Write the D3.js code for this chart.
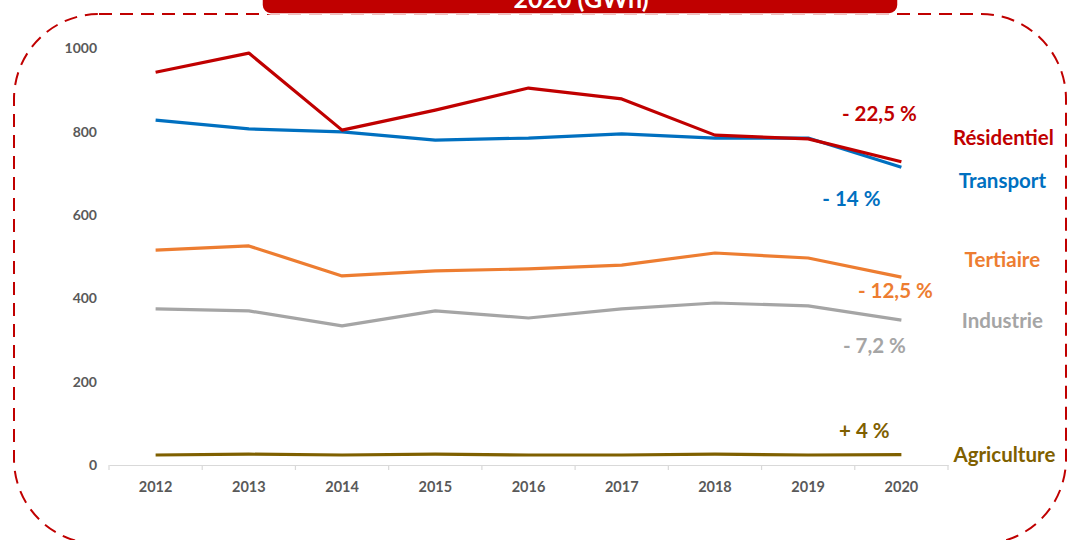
<!DOCTYPE html>
<html>
<head>
<meta charset="utf-8">
<script src="https://cdn.jsdelivr.net/npm/d3@7"></script>
<style>
  html, body { margin: 0; padding: 0; background: #fff; }
  svg { display: block; font-family: Lato, "Open Sans", sans-serif; }
</style>
</head>
<body>
<svg id="chart" width="1073" height="540"></svg>
<script>
// Consommation d'énergie par secteur, 2012-2020 (GWh)
const years = ['2012', '2013', '2014', '2015', '2016', '2017', '2018', '2019', '2020'];
const residentiel = [943, 989, 804, 852, 905, 879, 792, 783, 728];
const transport = [828, 807, 800, 780, 785, 795, 785, 785, 715];
const tertiaire = [516, 526, 454, 466, 471, 480, 509, 497, 451];
const industrie = [375, 370, 334, 370, 353, 375, 389, 382, 348];
const agriculture = [24, 26, 24, 26, 24, 24, 26, 24, 25];
const yTicks = [0, 200, 400, 600, 800, 1000];
const seriesNames = ['Résidentiel', 'Transport', 'Tertiaire', 'Industrie', 'Agriculture'];
const variations = ['- 22,5 %', '- 14 %', '- 12,5 %', '- 7,2 %', '+ 4 %'];
const titleText = '2020 (GWh)';

const series = [
  { name: seriesNames[0], values: residentiel, color: '#C00000', pct: variations[0], nameDx: 102, nameDy: -24, pctDx: -22, pctDy: -48 },
  { name: seriesNames[1], values: transport, color: '#0070C0', pct: variations[1], nameDx: 101, nameDy: 14, pctDx: -50, pctDy: 32 },
  { name: seriesNames[2], values: tertiaire, color: '#ED7D31', pct: variations[2], nameDx: 101, nameDy: -17, pctDx: -6, pctDy: 14 },
  { name: seriesNames[3], values: industrie, color: '#A5A5A5', pct: variations[3], nameDx: 101, nameDy: 1, pctDx: -27, pctDy: 26 },
  { name: seriesNames[4], values: agriculture, color: '#7F6000', pct: variations[4], nameDx: 103, nameDy: 0, pctDx: -37, pctDy: -24 },
];

const svg = d3.select('#chart');

// dashed rounded frame
svg.append('rect')
  .attr('x', 14).attr('y', 14)
  .attr('width', 1052).attr('height', 530)
  .attr('rx', 85).attr('ry', 85)
  .attr('fill', 'none')
  .attr('stroke', '#C00000')
  .attr('stroke-width', 2)
  .attr('stroke-dasharray', '13,8');

// title banner (cut by the top of the picture, as in the source)
svg.append('rect')
  .attr('x', 262).attr('y', -30)
  .attr('width', 636).attr('height', 44)
  .attr('rx', 9)
  .attr('fill', '#C00000')
  .attr('stroke', '#fff')
  .attr('stroke-width', 1.5);
svg.append('text')
  .attr('x', 581).attr('y', 8)
  .attr('text-anchor', 'middle')
  .attr('fill', '#fff')
  .attr('font-size', 25)
  .attr('font-weight', 'bold')
  .text(titleText);

const x = d3.scaleBand().domain(years).range([109, 948]);
const y = d3.scaleLinear().domain([0, 1000]).range([465, 48.5]);
const px = (d) => x(d) + x.bandwidth() / 2;

// x axis
const xAxis = svg.append('g')
  .attr('transform', `translate(0,${y(0)})`)
  .call(d3.axisBottom(x).tickSize(0).tickPadding(17));
xAxis.select('.domain').attr('stroke', '#D9D9D9').attr('stroke-width', 1.2);
xAxis.selectAll('.tick text')
  .attr('fill', '#595959').attr('font-size', 14.5).attr('font-weight', 'bold')
  .attr('font-family', 'Lato, sans-serif');
const bounds = years.map((d) => x(d)).concat([x.range()[1]]);
xAxis.selectAll('line.sep')
  .data(bounds)
  .join('line')
  .attr('class', 'sep')
  .attr('x1', (d) => d).attr('x2', (d) => d)
  .attr('y1', 0).attr('y2', 5)
  .attr('stroke', '#D9D9D9').attr('stroke-width', 1.2);

// y axis (labels only)
const yAxis = svg.append('g')
  .attr('transform', 'translate(97,0)')
  .call(d3.axisLeft(y).tickValues(yTicks).tickSize(0).tickPadding(0).tickFormat(d3.format('d')));
yAxis.select('.domain').remove();
yAxis.selectAll('.tick text')
  .attr('fill', '#595959').attr('font-size', 14).attr('font-weight', 'bold')
  .attr('font-family', 'Lato, sans-serif');

// lines
const line = d3.line()
  .x((d, i) => px(years[i]))
  .y((d) => y(d));

svg.append('g').selectAll('path')
  .data(series.slice().reverse())
  .join('path')
  .attr('d', (s) => line(s.values))
  .attr('fill', 'none')
  .attr('stroke', (s) => s.color)
  .attr('stroke-width', 3.2)
  .attr('stroke-linejoin', 'round');

// labels at the end of each line
const last = years[years.length - 1];
series.forEach((s) => {
  const ex = px(last);
  const ey = y(s.values[s.values.length - 1]);
  svg.append('text')
    .attr('x', ex + s.nameDx).attr('y', ey + s.nameDy)
    .attr('dy', '0.35em')
    .attr('text-anchor', 'middle')
    .attr('fill', s.color)
    .attr('font-size', 20.5)
    .attr('font-weight', 'bold')
    .text(s.name);
  svg.append('text')
    .attr('x', ex + s.pctDx).attr('y', ey + s.pctDy)
    .attr('dy', '0.35em')
    .attr('text-anchor', 'middle')
    .attr('fill', s.color)
    .attr('font-size', 20.5)
    .attr('font-weight', 'bold')
    .text(s.pct);
});
</script>
</body>
</html>
